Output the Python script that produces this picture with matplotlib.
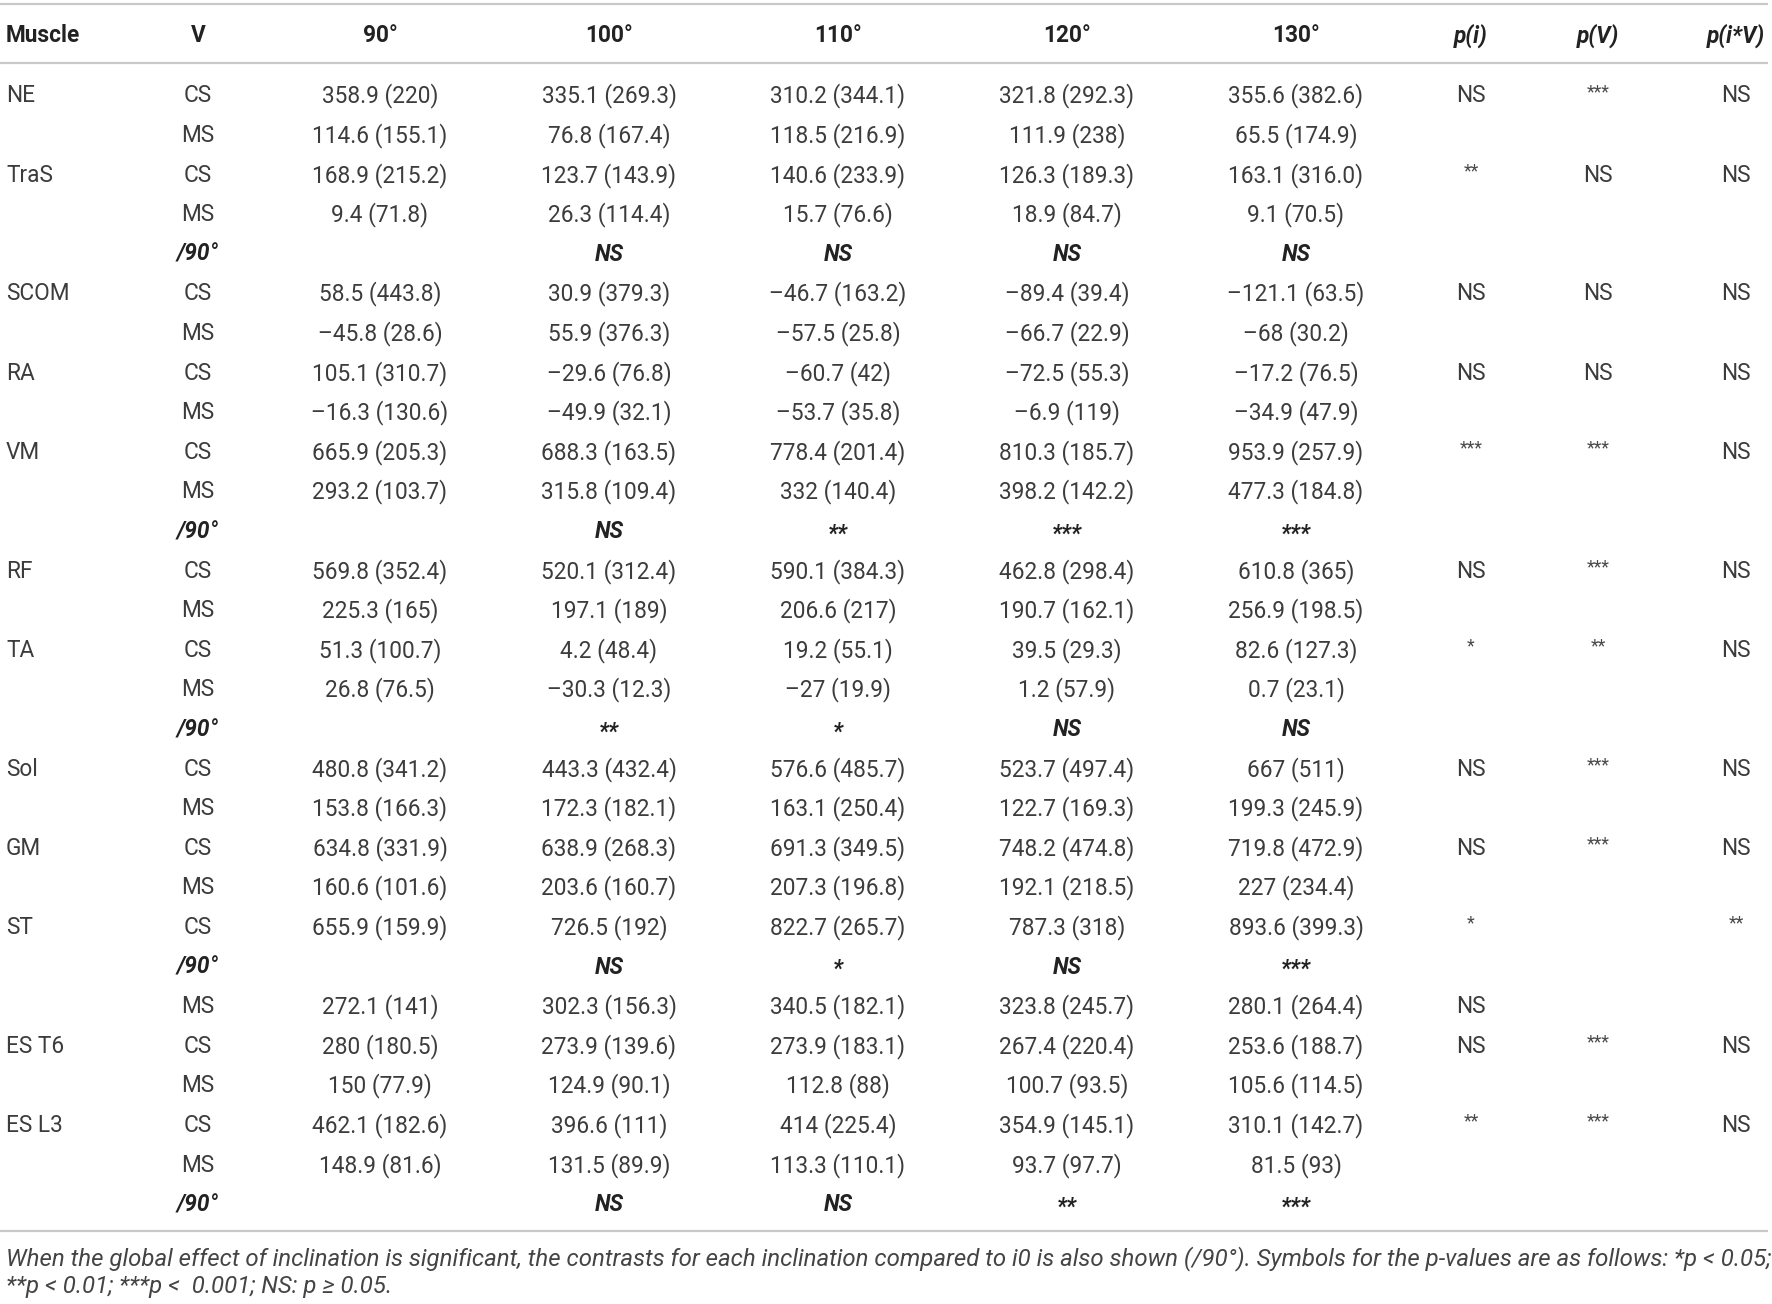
import matplotlib
matplotlib.use("Agg")
from matplotlib import pyplot as plt

plt.rcParams['font.family'] = ['Roboto', 'DejaVu Sans']

# table content, one list per column
header = ['Muscle', 'V', '90°', '100°', '110°', '120°', '130°', 'p(i)', 'p(V)', 'p(i*V)']

muscle = ['NE', '', 'TraS', '', '', 'SCOM', '', 'RA', '', 'VM', '', '', 'RF', '', 'TA', '', '',
          'Sol', '', 'GM', '', 'ST', '', '', 'ES T6', '', 'ES L3', '', '']
vel = ['CS', 'MS', 'CS', 'MS', '/90°', 'CS', 'MS', 'CS', 'MS', 'CS', 'MS', '/90°', 'CS', 'MS', 'CS', 'MS', '/90°',
       'CS', 'MS', 'CS', 'MS', 'CS', '/90°', 'MS', 'CS', 'MS', 'CS', 'MS', '/90°']

c90 = ['358.9 (220)', '114.6 (155.1)', '168.9 (215.2)', '9.4 (71.8)', '',
       '58.5 (443.8)', '–45.8 (28.6)', '105.1 (310.7)', '–16.3 (130.6)',
       '665.9 (205.3)', '293.2 (103.7)', '',
       '569.8 (352.4)', '225.3 (165)', '51.3 (100.7)', '26.8 (76.5)', '',
       '480.8 (341.2)', '153.8 (166.3)', '634.8 (331.9)', '160.6 (101.6)',
       '655.9 (159.9)', '', '272.1 (141)', '280 (180.5)', '150 (77.9)',
       '462.1 (182.6)', '148.9 (81.6)', '']
c100 = ['335.1 (269.3)', '76.8 (167.4)', '123.7 (143.9)', '26.3 (114.4)', 'NS',
        '30.9 (379.3)', '55.9 (376.3)', '–29.6 (76.8)', '–49.9 (32.1)',
        '688.3 (163.5)', '315.8 (109.4)', 'NS',
        '520.1 (312.4)', '197.1 (189)', '4.2 (48.4)', '–30.3 (12.3)', '**',
        '443.3 (432.4)', '172.3 (182.1)', '638.9 (268.3)', '203.6 (160.7)',
        '726.5 (192)', 'NS', '302.3 (156.3)', '273.9 (139.6)', '124.9 (90.1)',
        '396.6 (111)', '131.5 (89.9)', 'NS']
c110 = ['310.2 (344.1)', '118.5 (216.9)', '140.6 (233.9)', '15.7 (76.6)', 'NS',
        '–46.7 (163.2)', '–57.5 (25.8)', '–60.7 (42)', '–53.7 (35.8)',
        '778.4 (201.4)', '332 (140.4)', '**',
        '590.1 (384.3)', '206.6 (217)', '19.2 (55.1)', '–27 (19.9)', '*',
        '576.6 (485.7)', '163.1 (250.4)', '691.3 (349.5)', '207.3 (196.8)',
        '822.7 (265.7)', '*', '340.5 (182.1)', '273.9 (183.1)', '112.8 (88)',
        '414 (225.4)', '113.3 (110.1)', 'NS']
c120 = ['321.8 (292.3)', '111.9 (238)', '126.3 (189.3)', '18.9 (84.7)', 'NS',
        '–89.4 (39.4)', '–66.7 (22.9)', '–72.5 (55.3)', '–6.9 (119)',
        '810.3 (185.7)', '398.2 (142.2)', '***',
        '462.8 (298.4)', '190.7 (162.1)', '39.5 (29.3)', '1.2 (57.9)', 'NS',
        '523.7 (497.4)', '122.7 (169.3)', '748.2 (474.8)', '192.1 (218.5)',
        '787.3 (318)', 'NS', '323.8 (245.7)', '267.4 (220.4)', '100.7 (93.5)',
        '354.9 (145.1)', '93.7 (97.7)', '**']
c130 = ['355.6 (382.6)', '65.5 (174.9)', '163.1 (316.0)', '9.1 (70.5)', 'NS',
        '–121.1 (63.5)', '–68 (30.2)', '–17.2 (76.5)', '–34.9 (47.9)',
        '953.9 (257.9)', '477.3 (184.8)', '***',
        '610.8 (365)', '256.9 (198.5)', '82.6 (127.3)', '0.7 (23.1)', 'NS',
        '667 (511)', '199.3 (245.9)', '719.8 (472.9)', '227 (234.4)',
        '893.6 (399.3)', '***', '280.1 (264.4)', '253.6 (188.7)', '105.6 (114.5)',
        '310.1 (142.7)', '81.5 (93)', '***']
p_i = ['NS', '', '**', '', '', 'NS', '', 'NS', '', '***', '', '', 'NS', '', '*', '', '',
       'NS', '', 'NS', '', '*', '', 'NS', 'NS', '', '**', '', '']
p_v = ['***', '', 'NS', '', '', 'NS', '', 'NS', '', '***', '', '', '***', '', '**', '', '',
       '***', '', '***', '', '', '', '', '***', '', '***', '', '']
p_iv = ['NS', '', 'NS', '', '', 'NS', '', 'NS', '', 'NS', '', '', 'NS', '', 'NS', '', '',
        'NS', '', 'NS', '', '**', '', '', 'NS', '', 'NS', '', '']

footnote = ["When the global effect of inclination is significant, the contrasts for each inclination compared to i0 "
            "is also shown (/90°). Symbols for the p-values are as follows: *p < 0.05;",
            "**p < 0.01; ***p <  0.001; NS: p ≥ 0.05."]

W, H = 1772, 1304
fig = plt.figure(figsize=(W / 100, H / 100), dpi=100)
ax = fig.add_axes([0, 0, 1, 1])
ax.set_xlim(0, W)
ax.set_ylim(H, 0)
ax.axis('off')

txt = '#3c3c3c'
line_c = '#c9c9c9'
fs = 16.3

col_x = [6, 198, 380, 609, 838, 1067, 1296, 1471, 1598, 1736]
row0, step = 96, 39.6
head_y = 36

for y in (4, 63, 1231):
    ax.plot([0, 1768], [y, y], color=line_c, lw=1.6, solid_capstyle='butt')

# header
for j, h in enumerate(header):
    ha = 'left' if j == 0 else 'center'
    style = 'italic' if h.startswith('p(') else 'normal'
    ax.text(col_x[j], head_y, h, ha=ha, va='center', fontsize=fs, fontweight='bold',
            fontstyle=style, color='#222222')

data_cols = [c90, c100, c110, c120, c130]
for i in range(len(vel)):
    y = row0 + i * step
    contrast = vel[i] == '/90°'
    ax.text(col_x[0], y, muscle[i], ha='left', va='center', fontsize=fs, color=txt)
    if contrast:
        ax.text(col_x[1], y, vel[i], ha='center', va='center', fontsize=fs, color='#222222',
                fontweight='bold', fontstyle='italic')
    else:
        ax.text(col_x[1], y, vel[i], ha='center', va='center', fontsize=fs, color=txt)
    for k, col in enumerate(data_cols):
        s = col[i]
        if not s:
            continue
        if contrast:
            yy = y + 2 if s.startswith('*') else y
            ax.text(col_x[2 + k], yy, s, ha='center', va='center', fontsize=fs, color='#222222',
                    fontweight='bold', fontstyle='italic')
        else:
            ax.text(col_x[2 + k], y, s, ha='center', va='center', fontsize=fs, color=txt)
    for k, col in enumerate([p_i, p_v, p_iv]):
        s = col[i]
        if not s:
            continue
        if s.startswith('*'):
            ax.text(col_x[7 + k], y - 4, s, ha='center', va='center', fontsize=fs * 0.78,
                    color='#4a4a4a')
        else:
            ax.text(col_x[7 + k], y, s, ha='center', va='center', fontsize=fs, color=txt)

for n, line in enumerate(footnote):
    ax.text(6, 1259 + n * 28, line, ha='left', va='center', fontsize=17.3, fontstyle='italic',
            color='#444444')

fig.savefig('out.png', dpi=100)
